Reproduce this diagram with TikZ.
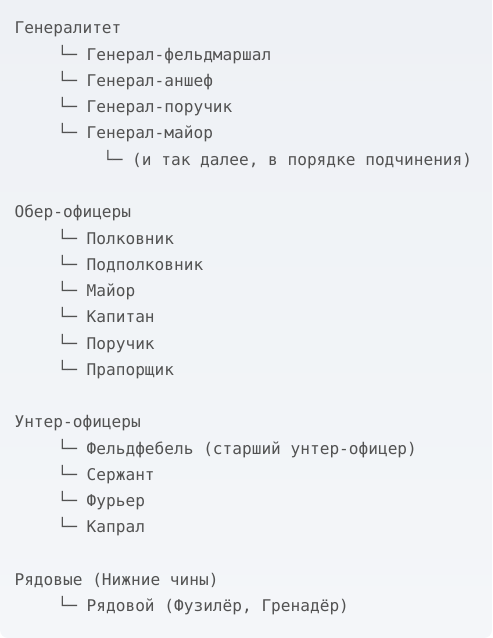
\documentclass[tikz,border=0pt]{standalone}
\usepackage{fontspec}
\setmonofont{DejaVu Sans Mono}
\usetikzlibrary{positioning}

\definecolor{bgtop}{HTML}{EEF1F5}
\definecolor{bgbot}{HTML}{F4F6F9}
\definecolor{txt}{HTML}{525252}

\tikzset{
  row/.style={anchor=base west, inner sep=0pt, text=txt,
    font=\ttfamily\fontsize{12.1}{14}\selectfont},
}

\begin{document}
\begin{tikzpicture}[x=0.75pt,y=-0.75pt]
    \useasboundingbox (0,0) rectangle (492,638);
    \shade[top color=bgtop, bottom color=bgbot]
      (0,319) -- (0,0) -- (492,0) -- (492,319) [rounded corners=6] -- (492,638) -- (0,638) -- cycle;

    % Генералитет
    \node [row] (gen)  at (14.3, 34) {Генералитет};
    \node [row] (gen1) at (57.3, 34+26.25*1) {└─ Генерал-фельдмаршал};
    \node [row] (gen2) at (57.3, 34+26.25*2) {└─ Генерал-аншеф};
    \node [row] (gen3) at (57.3, 34+26.25*3) {└─ Генерал-поручик};
    \node [row] (gen4) at (57.3, 34+26.25*4) {└─ Генерал-майор};
    \node [row] (gen5) at (102.8, 34+26.25*5) {└─ (и так далее, в порядке подчинения)};

    % Обер-офицеры
    \node [row] (ober)  at (14.3, 34+26.25*7) {Обер-офицеры};
    \node [row] (ober1) at (57.3, 34+26.25*8) {└─ Полковник};
    \node [row] (ober2) at (57.3, 34+26.25*9) {└─ Подполковник};
    \node [row] (ober3) at (57.3, 34+26.25*10) {└─ Майор};
    \node [row] (ober4) at (57.3, 34+26.25*11) {└─ Капитан};
    \node [row] (ober5) at (57.3, 34+26.25*12) {└─ Поручик};
    \node [row] (ober6) at (57.3, 34+26.25*13) {└─ Прапорщик};

    % Унтер-офицеры
    \node [row] (unter)  at (14.3, 34+26.25*15) {Унтер-офицеры};
    \node [row] (unter1) at (57.3, 34+26.25*16) {└─ Фельдфебель (старший унтер-офицер)};
    \node [row] (unter2) at (57.3, 34+26.25*17) {└─ Сержант};
    \node [row] (unter3) at (57.3, 34+26.25*18) {└─ Фурьер};
    \node [row] (unter4) at (57.3, 34+26.25*19) {└─ Капрал};

    % Рядовые
    \node [row] (ryad)  at (14.3, 34+26.25*21) {Рядовые (Нижние чины)};
    \node [row] (ryad1) at (57.3, 34+26.25*22) {└─ Рядовой (Фузилёр, Гренадёр)};
\end{tikzpicture}
\end{document}
